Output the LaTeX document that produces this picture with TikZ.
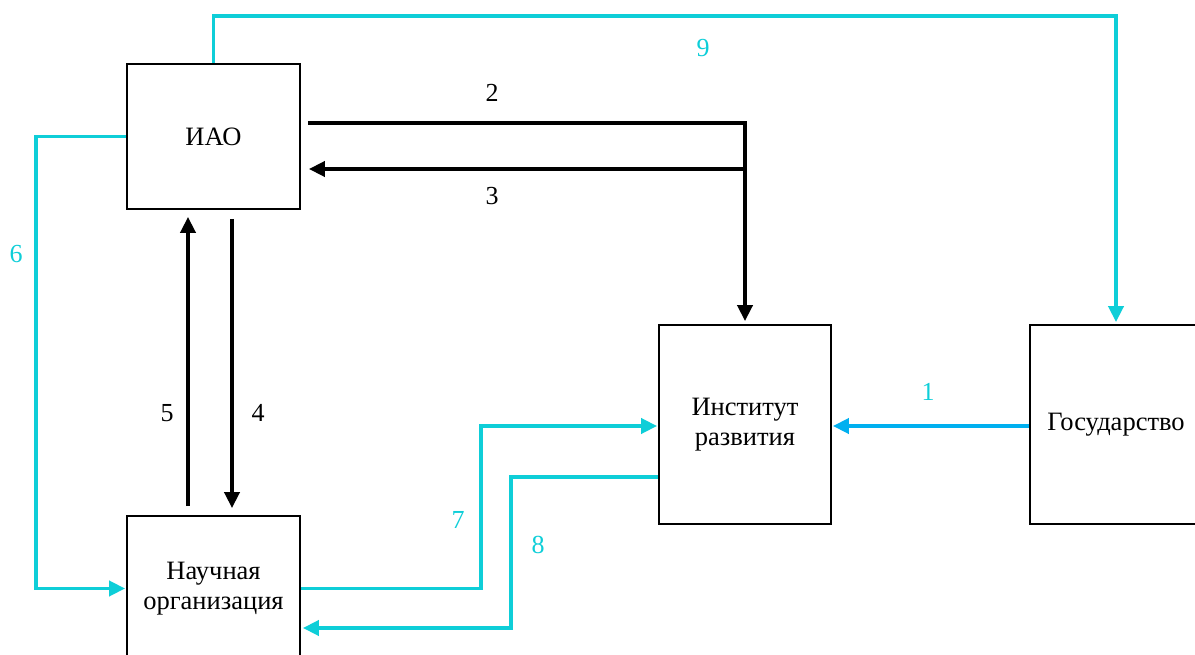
\documentclass[tikz,border=0pt]{standalone}
\usepackage{fontspec}
\setmainfont{Liberation Serif}
\usetikzlibrary{arrows.meta,calc}
\definecolor{cy}{RGB}{14,206,216}
\definecolor{bl}{RGB}{0,176,240}
\begin{document}
\begin{tikzpicture}[x=1pt,y=-1pt,
  box/.style={draw,line width=1.8pt,minimum width=173pt,align=center,font=\fontsize{26.5}{30}\selectfont,inner sep=0pt},
  blk/.style={line width=3.8pt,-{Triangle[length=16pt,width=15pt]}},
  cyl/.style={line width=3.8pt,draw=cy,-{Triangle[length=16pt,width=15pt]}},
  bll/.style={line width=3.8pt,draw=bl,-{Triangle[length=16pt,width=15pt]}},
  lab/.style={font=\fontsize{26}{28}\selectfont}]
\useasboundingbox (0,0) rectangle (1195,655);
\node[box,minimum height=145pt] (iao) at (213.5,136.5) {ИАО};
\node[box,minimum height=145pt] (nauch) at (213.5,588.5) {Научная\\организация};
\node[box,minimum width=172pt,minimum height=199pt] (inst) at (745,424.5) {Институт\\развития};
\node[box,minimum width=172pt,minimum height=199pt] (gos) at (1116,424.5) {Государство};
% 9
\draw[cyl] (iao.north) -- ++(0,-47) -| ([yshift=2]gos.north);
% 2
\draw[blk] ($(iao.east)+(7,-13.5)$) -| ([yshift=3]inst.north);
% 3
\coordinate (j3) at ($(inst.north |- iao.east)+(0,32.5)$);
\draw[blk] (j3) -- ($(iao.east)+(8,32.5)$);
% 6
\draw[cyl] (iao.west) -- ++(-90,0) |- ([xshift=-1]nauch.west);
% 5
\draw[blk] ([xshift=-25.5,yshift=9]nauch.north) -- ([xshift=-25.5,yshift=-7]iao.south);
% 4
\draw[blk] ([xshift=18.5,yshift=-9]iao.south) -- ([xshift=18.5,yshift=7]nauch.north);
% 7
\draw[cyl] (nauch.east) -- ++(180,0) |- ([xshift=-1,yshift=-1.5]inst.west);
% 8
\draw[cyl] ([yshift=-52.5]inst.west) -- ++(-147,0) |- ([xshift=2,yshift=-39.5]nauch.east);
% 1
\draw[bll] ([yshift=-1.5]gos.west) -- ([xshift=1,yshift=-1.5]inst.east);
% labels
\node[lab,text=cy] (l9) at (703,48) {9};
\node[lab] (l2) at (492,93) {2};
\node[lab] (l3) at (492,196) {3};
\node[lab,text=cy] (l6) at (16,254) {6};
\node[lab] (l5) at (167,413) {5};
\node[lab] (l4) at (258,413) {4};
\node[lab,text=cy] (l7) at (458,520) {7};
\node[lab,text=cy] (l8) at (538,545) {8};
\node[lab,text=cy] (l1) at (928,392) {1};
\end{tikzpicture}
\end{document}
